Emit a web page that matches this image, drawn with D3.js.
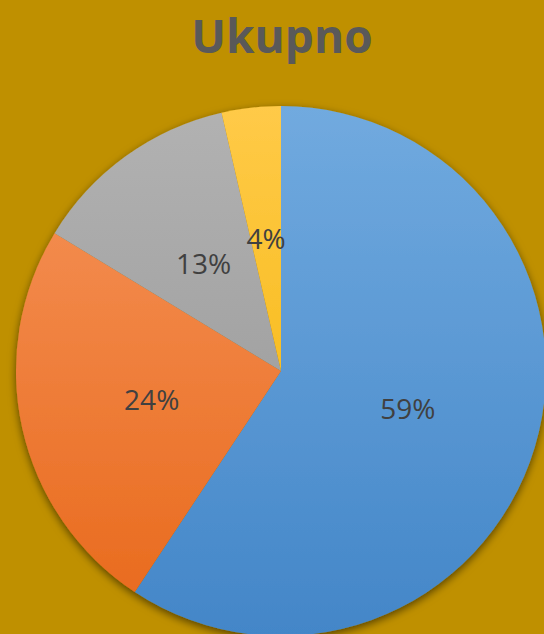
<!DOCTYPE html>
<html>
<head>
<meta charset="utf-8">
<script src="https://cdn.jsdelivr.net/npm/d3@7"></script>
<style>
  html, body { margin: 0; padding: 0; background: #BF9000; }
  svg { display: block; }
</style>
</head>
<body>
<svg id="chart" width="544" height="634"></svg>
<script>
const title = "Ukupno";
const categories = ["A", "B", "C", "D"];
const values = [59.3, 24.4, 12.7, 3.6];
const labels = ["59%", "24%", "13%", "4%"];
const colorsTop = ["#71aadf", "#f6955c", "#b2b2b2", "#ffca48"];
const colorsBottom = ["#4386c8", "#e8681a", "#939393", "#f2b200"];

const W = 544, H = 634;
const cx = 281, cy = 371, r = 265;

const svg = d3.select("#chart");
svg.append("rect").attr("width", W).attr("height", H).attr("fill", "#BF9000");

const defs = svg.append("defs");
const f = defs.append("filter").attr("id", "shadow")
  .attr("x", "-10%").attr("y", "-10%").attr("width", "120%").attr("height", "120%");
f.append("feDropShadow").attr("dx", 0).attr("dy", 3).attr("stdDeviation", 4)
  .attr("flood-color", "#000").attr("flood-opacity", 0.55);

categories.forEach((c, i) => {
  const g = defs.append("linearGradient").attr("id", "grad" + i)
    .attr("gradientUnits", "userSpaceOnUse")
    .attr("x1", 0).attr("y1", cy - r).attr("x2", 0).attr("y2", cy + r);
  g.append("stop").attr("offset", "0%").attr("stop-color", colorsTop[i]);
  g.append("stop").attr("offset", "100%").attr("stop-color", colorsBottom[i]);
});

svg.append("text")
  .attr("x", 282).attr("y", 53)
  .attr("text-anchor", "middle")
  .attr("font-family", "'Open Sans', sans-serif")
  .attr("font-weight", "bold")
  .attr("font-size", 46)
  .attr("fill", "#595959")
  .text(title);

const pie = d3.pie().sort(null).value(d => d)(values);
const arc = d3.arc().innerRadius(0).outerRadius(r);
const labelArc = d3.arc().innerRadius(r / 2).outerRadius(r / 2);

const g = svg.append("g").attr("transform", `translate(${cx},${cy})`);
const sl = g.append("g").attr("filter", "url(#shadow)");
sl.selectAll("path").data(pie).enter().append("path")
  .attr("d", arc)
  .attr("fill", (d, i) => `url(#grad${i})`)
  .attr("transform", `translate(0,0)`);
// gradients are in user space of the g; fix by offsetting gradient coords
defs.selectAll("linearGradient").attr("y1", -r).attr("y2", r);

g.selectAll("text.lbl").data(pie).enter().append("text")
  .attr("class", "lbl")
  .attr("transform", d => { const c = labelArc.centroid(d); return `translate(${c[0]},${c[1]})`; })
  .attr("text-anchor", "middle")
  .attr("dy", "0.36em")
  .attr("font-family", "'Open Sans', sans-serif")
  .attr("font-size", 28)
  .attr("fill", "#404040")
  .text((d, i) => labels[i]);
</script>
</body>
</html>
